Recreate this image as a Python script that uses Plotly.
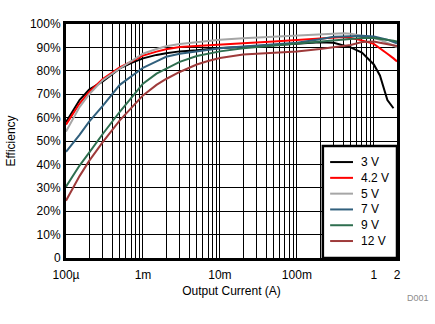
import math
import plotly.graph_objects as go

# Output current (A)
current = [1e-4, 1.5e-4, 2e-4, 3e-4, 5e-4, 7e-4, 1e-3, 1.5e-3, 2e-3, 3e-3,
           5e-3, 7e-3, 1e-2, 2e-2, 5e-2, 0.1, 0.2, 0.3, 0.4, 0.5,
           0.7, 1.0, 1.2, 1.5, 1.8, 2.0]

# Efficiency (%) per input voltage
eff_3v = [58, 67.5, 72, 75.5, 81, 83.3, 85.3, 86.8, 87.5, 88.3,
          88.8, 89.3, 89.7, 90.2, 91, 91.6, 92.2, 92, 91, 90,
          87.8, 82.7, 78, 67.5, 64, None]
eff_4v2 = [57, 66, 71, 76.5, 81.5, 84, 86.5, 88.2, 89.2, 90.2,
           90.7, 91, 91.3, 91.8, 92.5, 93.2, 94, 94.4, 94.4, 94,
           93, 91.5, 89.7, 87.3, 85.3, 84]
eff_5v = [54, 64.5, 70, 76, 81, 84, 87.3, 89.3, 90.5, 91.5,
          92.3, 92.9, 93.3, 93.9, 94.6, 95, 95.4, 95.8, 96, 95.8,
          95, 94, 93.2, 92, 90.8, 90]
eff_7v = [45.4, 52.6, 58.3, 65, 74, 77.5, 81.3, 84, 86, 87.3,
          88.3, 89, 89.6, 90.4, 91.2, 92, 93.5, 94.5, 94.7, 94.8,
          95, 94.7, 94.2, 93.3, 92.3, 91.7]
eff_9v = [30.5, 39.5, 45, 53, 62.5, 68.5, 74.5, 78.8, 81, 83.8,
          86.3, 87.4, 88.3, 89.6, 90.8, 91.5, 92.5, 93.2, 93.5, 93.8,
          94, 94, 93.7, 93.2, 92.8, 92.5]
eff_12v = [24.5, 35, 41.5, 49.5, 58.8, 64, 69.5, 74, 76.5, 79.5,
           82.7, 84.2, 85.5, 87, 87.8, 88.3, 89.3, 90, 90.3, 91,
           92.3, 92.5, 92, 91.5, 91, 90.6]

series_names = ["3 V", "4.2 V", "5 V", "7 V", "9 V", "12 V"]
series_values = [eff_3v, eff_4v2, eff_5v, eff_7v, eff_9v, eff_12v]
series_colors = ["#000000", "#FF0000", "#A6A6A6", "#31607D", "#2E6E4F", "#9E3A3A"]

# Axis ticks
x_label_vals = [1e-4, 1e-3, 1e-2, 0.1, 1, 2]
x_label_text = ["100\u00b5", "1m", "10m", "100m", "1", "2"]
y_tick_vals = list(range(0, 101, 10))
y_tick_text = ["0"] + [f"{v}%" for v in y_tick_vals[1:]]

FONT = "Liberation Sans, Arial, sans-serif"

# Log-axis grid: every 1..9 multiple per decade, labels only on selected values
grid_vals = []
for decade in range(-4, 1):
    for m in range(1, 10):
        v = m * 10 ** decade
        if v <= 2.0 + 1e-9:
            grid_vals.append(v)
grid_vals.append(2.0)
grid_vals = sorted(set(round(v, 12) for v in grid_vals))
grid_text = []
for v in grid_vals:
    match = [t for lv, t in zip(x_label_vals, x_label_text) if abs(lv - v) < 1e-12]
    grid_text.append(match[0] if match else "")

fig = go.Figure()
for name, vals, color in zip(series_names, series_values, series_colors):
    fig.add_trace(go.Scatter(
        x=current, y=vals, name=name, mode="lines",
        line=dict(color=color, width=2), showlegend=False,
    ))

fig.update_layout(
    width=435, height=324,
    margin=dict(l=66, r=38, t=24, b=66),
    paper_bgcolor="white", plot_bgcolor="white",
    font=dict(family=FONT, size=12, color="black"),
)
fig.update_xaxes(
    type="log", range=[-4, math.log10(2)], automargin=False,
    tickvals=grid_vals, ticktext=grid_text,
    ticks="outside", ticklen=4, tickcolor="rgba(0,0,0,0)",
    showgrid=True, gridcolor="black", gridwidth=1,
    showline=True, linecolor="black", linewidth=3, mirror=True,
    zeroline=False, tickfont=dict(size=12),
    title=dict(text="Output Current (A)", font=dict(size=12), standoff=6),
)
fig.update_yaxes(
    range=[0, 100], automargin=False,
    tickvals=y_tick_vals, ticktext=y_tick_text, ticks="",
    showgrid=True, gridcolor="black", gridwidth=1,
    showline=True, linecolor="black", linewidth=3, mirror=True,
    zeroline=False, tickfont=dict(size=12),
    title=dict(text="Efficiency", font=dict(size=12), standoff=12),
)

# Legend box in the lower-right corner of the plot area
box_x0, box_y1 = 0.776, 0.479
fig.add_shape(type="rect", xref="paper", yref="paper",
              x0=box_x0, x1=1.0, y0=0.0, y1=box_y1,
              fillcolor="white", line=dict(color="black", width=2.5),
              layer="above")
row_top, row_step = 0.410, 0.0675
for i, (name, color) in enumerate(zip(series_names, series_colors)):
    yy = row_top - i * row_step
    fig.add_shape(type="line", xref="paper", yref="paper",
                  x0=0.798, x1=0.867, y0=yy, y1=yy,
                  line=dict(color=color, width=2), layer="above")
    fig.add_annotation(xref="paper", yref="paper", x=0.885, y=yy,
                       text=name, showarrow=False, xanchor="left",
                       yanchor="middle", font=dict(size=12, color="black"))

fig.add_annotation(xref="paper", yref="paper", x=1.024, y=-0.171,
                   text="D001", showarrow=False, xanchor="left",
                   yanchor="middle", font=dict(size=9, color="#8C8C8C"))

fig.write_html("out.html")
